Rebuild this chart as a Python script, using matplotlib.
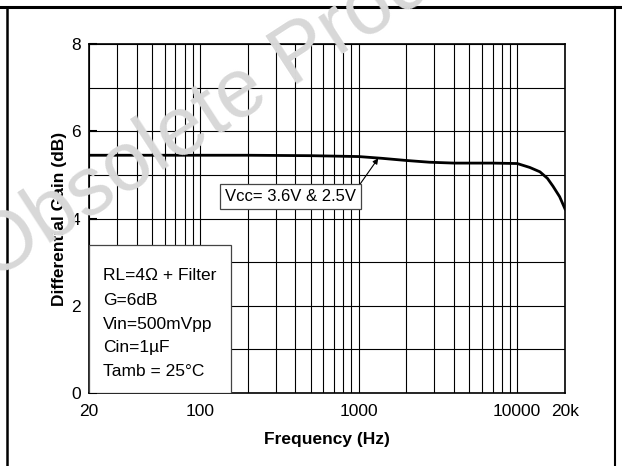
import numpy as np
import matplotlib
matplotlib.use("Agg")
import matplotlib.pyplot as plt
from matplotlib.patches import Rectangle
from matplotlib.lines import Line2D

plt.rcParams['font.family'] = ['Liberation Sans', 'DejaVu Sans']

# curve (Hz, dB)
freq = [20, 50, 100, 200, 500, 1000, 1400, 2000, 2800, 4000, 7000, 10000,
        12000, 13900, 15500, 16800, 18500, 20000]
gain = [5.45, 5.45, 5.45, 5.45, 5.44, 5.42, 5.38, 5.33, 5.29, 5.27, 5.27, 5.26,
        5.17, 5.07, 4.92, 4.74, 4.50, 4.22]

xticks = [20, 100, 1000, 10000, 20000]
xtick_labels = ["20", "100", "1000", "10000", "20k"]
yticks = [0, 2, 4, 6, 8]
conditions = ["RL=4\u03a9 + Filter", "G=6dB", "Vin=500mVpp", "Cin=1\u00b5F",
              "Tamb = 25\u00b0C"]
curve_label = "Vcc= 3.6V & 2.5V"

W, H = 622, 466
fig = plt.figure(figsize=(W / 100, H / 100), dpi=100)
ax = fig.add_axes([89 / W, 1 - 393 / H, (565 - 89) / W, (393 - 44) / H])

ax.set_xscale("log")
ax.set_xlim(20, 20000)
ax.set_ylim(0, 8)

# grid: every decade step and every dB
vgrid = [m * 10 ** d for d in range(1, 5) for m in range(1, 10)]
vgrid = [v for v in vgrid if 20 <= v <= 20000]
for v in vgrid:
    ax.axvline(v, color="k", lw=0.8, zorder=1)
for h in range(0, 9):
    ax.axhline(h, color="k", lw=0.8, zorder=1)

ax.plot(freq, gain, color="k", lw=2.0, zorder=3)

ax.set_xticks(xticks)
ax.set_xticklabels(xtick_labels)
ax.xaxis.set_minor_locator(matplotlib.ticker.NullLocator())
ax.set_yticks(yticks)
ax.tick_params(axis="x", length=0, pad=8, labelsize=12.5)
ax.tick_params(axis="y", direction="in", length=6, width=1.5, pad=6, labelsize=12.5)
for s in ax.spines.values():
    s.set_linewidth(1.2)

ax.set_xlabel("Frequency (Hz)", fontsize=12.5, fontweight="bold", labelpad=9)
ax.set_ylabel("Differential Gain (dB)", fontsize=12.5, fontweight="bold", labelpad=3)

# conditions box, lower left
ax.add_patch(Rectangle((0, 0), 0.298, 0.424, transform=ax.transAxes,
                       facecolor="white", edgecolor="#444444", lw=0.9, zorder=5))
ys = [0.338, 0.266, 0.197, 0.131, 0.062]
for t, y in zip(conditions, ys):
    ax.text(0.029, y, t, transform=ax.transAxes, fontsize=12.5,
            ha="left", va="center", zorder=6)

# curve label with arrow
ax.annotate(curve_label, xy=(1330, 5.38), xytext=(375, 4.5),
            fontsize=12, ha="center", va="center", zorder=6,
            bbox=dict(boxstyle="square,pad=0.3", fc="white", ec="#444444", lw=0.9),
            arrowprops=dict(arrowstyle="-|>", color="k", lw=0.8,
                            mutation_scale=8, relpos=(1, 1), shrinkA=0, shrinkB=0))

# page frame
fig.add_artist(Line2D([0, 1], [1 - 7 / H, 1 - 7 / H], color="k", lw=2.2,
                      transform=fig.transFigure))
fig.add_artist(Line2D([7.5 / W, 7.5 / W], [0, 1 - 7 / H], color="k", lw=1.8,
                      transform=fig.transFigure))
fig.add_artist(Line2D([615 / W, 615 / W], [0, 1 - 7 / H], color="k", lw=1.5,
                      transform=fig.transFigure))

# watermark
fig.text(-8 / W, 1 - 282 / H, "Obsolete Product(s)", fontsize=60, color="#d8d8d8",
         rotation=33, rotation_mode="anchor", ha="left", va="baseline", zorder=20)

fig.savefig("out.png", dpi=100)
